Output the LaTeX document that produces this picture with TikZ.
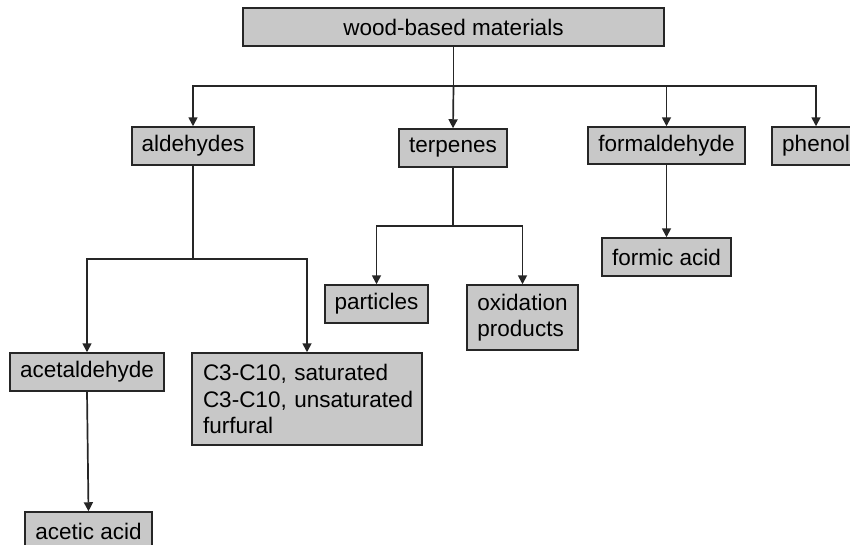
\documentclass[tikz,border=0pt]{standalone}
\usepackage{fontspec}
\setmainfont{Liberation Sans}
\usetikzlibrary{arrows.meta}
\definecolor{boxgray}{RGB}{200,200,200}
\begin{document}
\begin{tikzpicture}[x=1pt,y=-1pt,
  box/.style={draw=black!85,fill=boxgray,line width=1.5pt,rectangle,inner sep=0pt,
    font=\fontsize{22.5}{26.5}\selectfont},
  conn/.style={line width=1.7pt,draw=black!85},
  arr/.style={conn,-{Triangle[length=9pt,width=9pt]}}]
\useasboundingbox (0,0) rectangle (850,544);
\clip (0,0) rectangle (850,544);
\node[box,minimum width=421pt,minimum height=38pt] (top) at (453.5,27) {wood-based materials};
\node[box,minimum width=122pt,minimum height=38pt] (ald) at (193,146) {aldehydes};
\node[box,minimum width=108pt,minimum height=38pt] (terp) at (453,148) {terpenes};
\node[box,minimum width=157pt,minimum height=37pt] (form) at (666.5,145.5) {formaldehyde};
\node[box,minimum width=88pt,minimum height=38pt] (phen) at (816,146) {phenol};
\node[box,minimum width=129pt,minimum height=38pt] (formic) at (666.5,257) {formic acid};
\node[box,minimum width=103pt,minimum height=38pt] (part) at (376.5,304) {particles};
\node[box,minimum width=111pt,minimum height=65pt,align=left] (oxid) at (522.5,317.5) {oxidation\\products};
\node[box,minimum width=154pt,minimum height=38pt] (acetald) at (87,372) {acetaldehyde};
\node[box,minimum width=230pt,minimum height=92pt,text width=208pt,inner xsep=11pt,align=left] (c3) at (307,399) {\mbox{C3-C10, saturated}\\\mbox{C3-C10, unsaturated}\\\mbox{furfural}};
\node[box,minimum width=127pt,minimum height=38pt] (acetic) at (88.5,531) {acetic acid};
\coordinate (j1) at (453.5,86);
\coordinate (j2) at (193,259);
\coordinate (j3) at (453,226);
\draw[conn] (top.south) -- (j1);
\draw[arr] (j1) -| (ald.north);
\draw[arr] (j1) -- (terp.north);
\draw[arr] (j1) -| (form.north);
\draw[arr] (j1) -| (phen.north);
\draw[conn] (ald.south) -- (j2);
\draw[arr] (j2) -| (acetald.north);
\draw[arr] (j2) -| (c3.north);
\draw[conn] (terp.south) -- (j3);
\draw[arr] (j3) -| (part.north);
\draw[arr] (j3) -| (oxid.north);
\draw[arr] (form.south) -- (formic.north);
\draw[arr] (acetald.south) -- (acetic.north);
\end{tikzpicture}
\end{document}
